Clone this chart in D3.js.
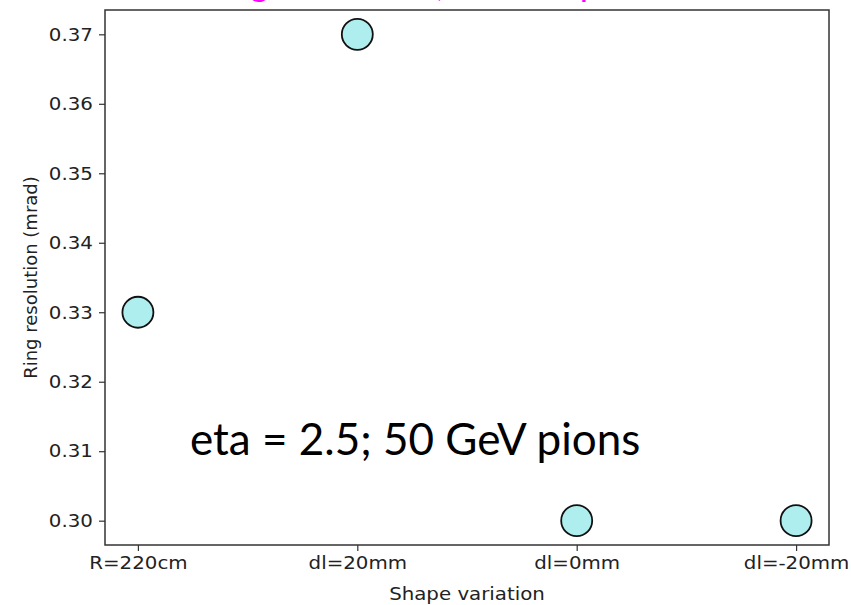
<!DOCTYPE html>
<html>
<head>
<meta charset="utf-8">
<script src="https://cdn.jsdelivr.net/npm/d3@7"></script>
<style>
  html, body { margin: 0; padding: 0; background: #fff; }
  svg { display: block; }
</style>
</head>
<body>
<svg id="chart" width="851" height="605"></svg>
<script>
// Ring resolution for each mirror shape variation
const categories = ["R=220cm", "dl=20mm", "dl=0mm", "dl=-20mm"];
const resolution = [0.33, 0.37, 0.30, 0.30];
const yTicks = [0.30, 0.31, 0.32, 0.33, 0.34, 0.35, 0.36, 0.37];

const W = 851, H = 605;
const margin = { left: 105, right: 22, top: 10, bottom: 60 };
const svg = d3.select("#chart");

const x = d3.scaleLinear()
  .domain([-0.15, categories.length - 1 + 0.15])
  .range([margin.left, W - margin.right]);
const y = d3.scaleLinear()
  .domain([0.2965, 0.3735])
  .range([H - margin.bottom, margin.top]);

const tickFont = "'DejaVu Sans', sans-serif";
const stretch = "scale(1.1,1)";

// heading, mostly above the top edge
svg.append("text")
  .attr("x", 199).attr("y", -4.5)
  .attr("font-family", "Lato, sans-serif")
  .attr("font-size", 36)
  .attr("fill", "#ff00ff")
  .text("Ring resolution, 50 GeV pions");

// y axis
const yAxis = svg.append("g")
  .attr("transform", `translate(${margin.left},0)`)
  .call(d3.axisLeft(y).tickValues(yTicks).tickFormat(d3.format(".2f")).tickSize(6).tickPadding(5));

// x axis
const xAxis = svg.append("g")
  .attr("transform", `translate(0,${H - margin.bottom})`)
  .call(d3.axisBottom(x).tickValues(d3.range(categories.length))
    .tickFormat(i => categories[i]).tickSize(6).tickPadding(5));

[yAxis, xAxis].forEach(g => {
  g.select(".domain").remove();
  g.selectAll(".tick line").attr("stroke", "#333").attr("stroke-width", 1.2);
  g.selectAll(".tick text")
    .attr("font-family", tickFont).attr("font-size", 18).attr("fill", "#222")
    .attr("transform", stretch);
});

// frame
svg.append("rect")
  .attr("x", margin.left).attr("y", margin.top)
  .attr("width", W - margin.right - margin.left)
  .attr("height", H - margin.bottom - margin.top)
  .attr("fill", "none").attr("stroke", "#333").attr("stroke-width", 1.5);

// markers
svg.append("g").selectAll("circle")
  .data(resolution)
  .join("circle")
  .attr("cx", (d, i) => x(i))
  .attr("cy", d => y(d))
  .attr("r", 15.5)
  .attr("fill", "#afeeee")
  .attr("stroke", "#111")
  .attr("stroke-width", 1.8);

// axis titles
svg.append("text")
  .attr("transform", `translate(${(margin.left + W - margin.right) / 2},600) ${stretch}`)
  .attr("text-anchor", "middle")
  .attr("font-family", tickFont).attr("font-size", 18).attr("fill", "#222")
  .text("Shape variation");

svg.append("text")
  .attr("transform", `translate(37,${(margin.top + H - margin.bottom) / 2}) rotate(-90)`)
  .attr("text-anchor", "middle")
  .attr("font-family", tickFont).attr("font-size", 18).attr("fill", "#222")
  .text("Ring resolution (mrad)");

// annotation
svg.append("text")
  .attr("x", 190).attr("y", 455)
  .attr("font-family", "Lato, 'Open Sans', sans-serif")
  .attr("font-size", 44)
  .attr("fill", "#000")
  .text("eta = 2.5; 50 GeV pions");
</script>
</body>
</html>
